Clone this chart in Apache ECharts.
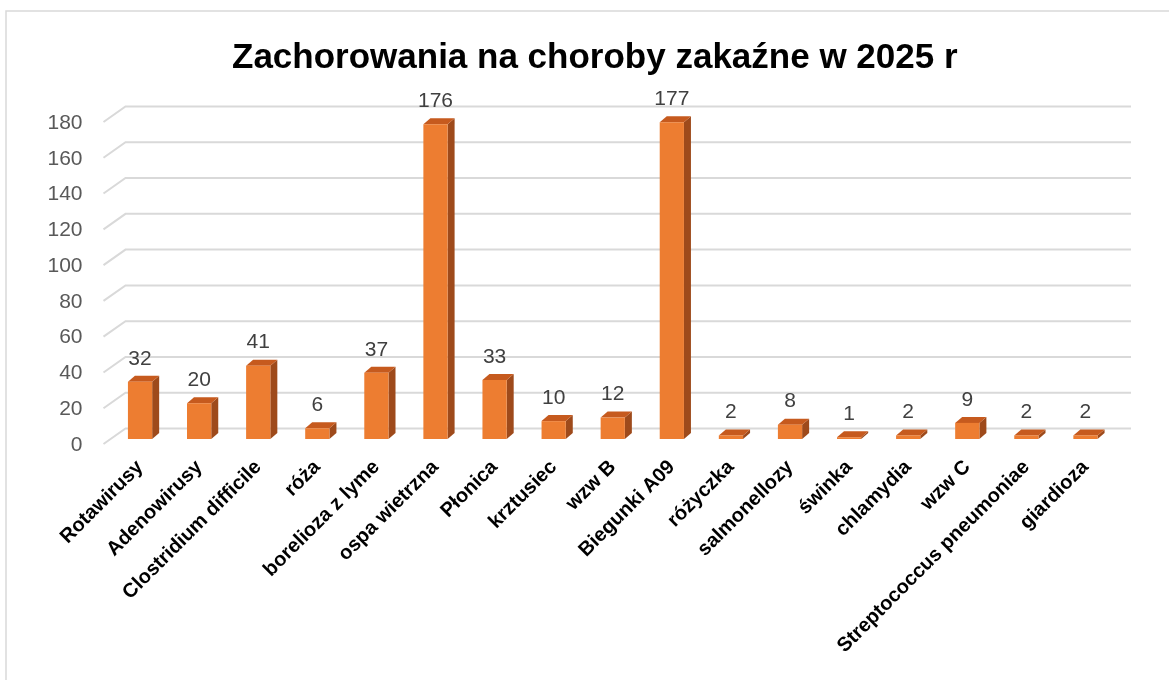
<!DOCTYPE html>
<html lang="pl">
<head>
    <meta charset="UTF-8">
    <title>Zachorowania na choroby zakaźne w 2025 r</title>
    <script src="https://cdn.jsdelivr.net/npm/echarts@6/dist/echarts.min.js"></script>
    <style>
        html, body { margin: 0; padding: 0; background: #fff; }
        #container { width: 1169px; height: 680px; }
    </style>
</head>
<body>
<div id="container"></div>
<script>
    var categories = ['Rotawirusy', 'Adenowirusy', 'Clostridium difficile', 'róża', 'borelioza z lyme',
        'ospa wietrzna', 'Płonica', 'krztusiec', 'wzw B', 'Biegunki A09', 'różyczka', 'salmonellozy',
        'świnka', 'chlamydia', 'wzw C', 'Streptococcus pneumoniae', 'giardioza'];
    var cases = [32, 20, 41, 6, 37, 176, 33, 10, 12, 177, 2, 8, 1, 2, 9, 2, 2];
    var yTicks = [0, 20, 40, 60, 80, 100, 120, 140, 160, 180];

    var FONT = '"Liberation Sans", Arial, sans-serif';
    // 3d look: depth of bars and of the back wall, in pixels
    var barDx = 7, barDy = 6;

    function renderBar(params, api) {
        var idx = api.value(0);
        var top = api.coord([idx, api.value(1)]);
        var base = api.coord([idx, 0]);
        var w = api.size([1, 0])[0] * 0.41;
        var x0 = top[0] - w / 2, x1 = top[0] + w / 2;
        var yt = top[1], yb = base[1];
        return {
            type: 'group',
            children: [
                {
                    type: 'polygon',
                    shape: { points: [[x1, yt], [x1 + barDx, yt - barDy], [x1 + barDx, yb - barDy], [x1, yb]] },
                    style: { fill: '#9E4A1B' }
                },
                {
                    type: 'polygon',
                    shape: { points: [[x0, yt], [x0 + barDx, yt - barDy], [x1 + barDx, yt - barDy], [x1, yt]] },
                    style: { fill: '#C65A1E' }
                },
                {
                    type: 'rect',
                    shape: { x: x0, y: yt, width: w, height: yb - yt },
                    style: { fill: '#ED7D31' }
                },
                {
                    type: 'text',
                    x: top[0], y: yt - 23,
                    style: {
                        text: String(api.value(1)), align: 'center', verticalAlign: 'middle',
                        font: '21px ' + FONT, fill: '#404040'
                    }
                }
            ]
        };
    }

    function renderGridLine(params, api) {
        var cs = params.coordSys;
        var y = api.coord([0, api.value(1)])[1];
        return {
            type: 'polyline',
            shape: {
                points: [[cs.x - 7, y + 5], [cs.x + 15, y - 10.5], [cs.x + cs.width + 16, y - 10.5]]
            },
            style: { stroke: '#D9D9D9', lineWidth: 2, fill: null }
        };
    }

    var options = {
        animation: false,
        title: {
            text: 'Zachorowania na choroby zakaźne w 2025 r',
            left: 227,
            top: 36,
            textStyle: { fontFamily: FONT, fontSize: 35, fontWeight: 'bold', color: '#000' }
        },
        graphic: [{
            type: 'rect',
            shape: { x: 6, y: 11, width: 1200, height: 700 },
            style: { fill: null, stroke: '#D9D9D9', lineWidth: 1.5 },
            silent: true
        }],
        grid: { left: 110.5, right: 54, top: 117, bottom: 241 },
        xAxis: {
            type: 'category',
            data: categories,
            axisLine: { show: false },
            axisTick: { show: false },
            axisLabel: {
                interval: 0,
                rotate: 45,
                margin: 25,
                fontFamily: FONT,
                fontSize: 20,
                fontWeight: 'bold',
                color: '#000'
            }
        },
        yAxis: {
            type: 'value',
            min: 0,
            max: 180,
            interval: 20,
            splitLine: { show: false },
            axisLine: { show: false },
            axisTick: { show: false },
            axisLabel: {
                margin: 28,
                verticalAlign: 'top',
                lineHeight: 12,
                fontFamily: FONT,
                fontSize: 21,
                color: '#595959'
            }
        },
        series: [
            {
                type: 'custom',
                renderItem: renderGridLine,
                data: yTicks.map(function (v) { return [0, v]; }),
                z: 1,
                silent: true
            },
            {
                type: 'custom',
                renderItem: renderBar,
                data: cases.map(function (v, i) { return [i, v]; }),
                z: 2
            }
        ]
    };

    var myChart = echarts.init(document.getElementById('container'));
    myChart.setOption(options);
</script>
</body>
</html>
